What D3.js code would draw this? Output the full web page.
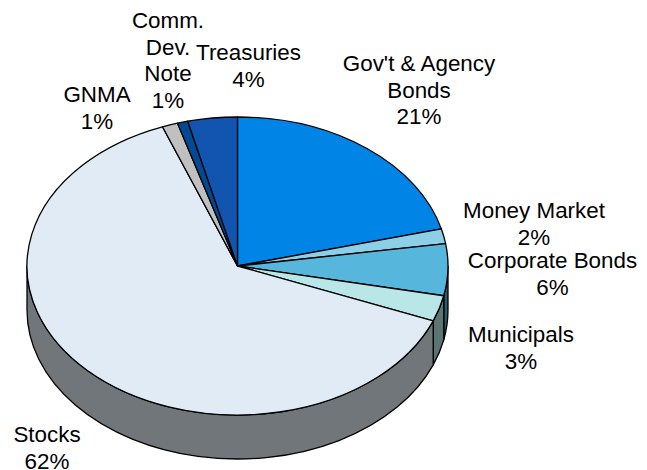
<!DOCTYPE html>
<html lang="en">
<head>
  <meta charset="UTF-8">
  <title>Portfolio Allocation</title>
  <script src="https://d3js.org/d3.v7.min.js"></script>
  <style>
    body { margin: 0; background: #fff; }
    text { font-family: "Liberation Sans", Arial, sans-serif; font-size: 22.4px; fill: #000; }
  </style>
</head>
<body>
  <script>
    // Values, clockwise from 12 o'clock
    const categories = ["Gov't & Agency Bonds", "Money Market", "Corporate Bonds", "Municipals", "Stocks", "GNMA", "Comm. Dev. Note", "Treasuries"];
    const values = [21, 1.6, 5.6, 2.8, 63.2, 1.2, 0.8, 3.8];
    const percentLabels = ["21%", "2%", "6%", "3%", "62%", "1%", "1%", "4%"];
    const topColors = ["#0085e6", "#8ccfe6", "#56b6dc", "#b9e6e6", "#e1ebf6", "#c0c0c0", "#004a94", "#1155b0"];
    const sideColors = ["#004a7a", "#46687a", "#2b5b6e", "#5c7573", "#70767a", "#606060", "#002550", "#082a58"];

    const width = 647, height = 470;
    const cx = 237.5, cy = 266, rx = 210.5, ry = 149, depth = 44;

    // label lines and where they sit, same order as categories
    const labelLines = [
      ["Gov't & Agency", "Bonds"], ["Money Market"], ["Corporate Bonds"], ["Municipals"],
      ["Stocks"], ["GNMA"], ["Comm.", "Dev.", "Note"], ["Treasuries"]
    ];
    const labelAt = [[419, 71], [534, 218], [552.5, 268], [521, 342], [47, 442], [97, 102], [168, 28], [248.5, 60]];

    const svg = d3.select("body").append("svg")
      .attr("width", width)
      .attr("height", height);

    const pie = d3.pie().sort(null).value(d => d);
    const slices = pie(values);

    const px = a => cx + rx * Math.sin(a);
    const py = a => cy - ry * Math.cos(a);

    // wall under the front half of the disc
    function sidePath(a0, a1) {
      return `M${px(a0)},${py(a0)}` +
        `A${rx},${ry} 0 0 1 ${px(a1)},${py(a1)}` +
        `L${px(a1)},${py(a1) + depth}` +
        `A${rx},${ry} 0 0 0 ${px(a0)},${py(a0) + depth}Z`;
    }

    const lo = Math.PI / 2, hi = Math.PI * 1.5;
    svg.append("g").selectAll("path")
      .data(slices.filter(d => d.endAngle > lo && d.startAngle < hi))
      .enter().append("path")
      .attr("d", d => sidePath(Math.max(d.startAngle, lo), Math.min(d.endAngle, hi)))
      .attr("fill", d => sideColors[d.index])
      .attr("stroke", "#000")
      .attr("stroke-width", 1.3)
      .attr("stroke-linejoin", "round");

    const arc = d3.arc().innerRadius(0).outerRadius(rx);
    svg.append("g")
      .attr("transform", `translate(${cx},${cy}) scale(1,${ry / rx})`)
      .selectAll("path")
      .data(slices)
      .enter().append("path")
      .attr("d", arc)
      .attr("fill", d => topColors[d.index])
      .attr("stroke", "#000")
      .attr("stroke-width", 1.3)
      .attr("vector-effect", "non-scaling-stroke")
      .attr("stroke-linejoin", "round");

    const labels = svg.append("g").selectAll("text")
      .data(categories)
      .enter().append("text")
      .attr("text-anchor", "middle")
      .attr("x", (d, i) => labelAt[i][0])
      .attr("y", (d, i) => labelAt[i][1]);

    labels.each(function (d, i) {
      const el = d3.select(this);
      labelLines[i].concat(percentLabels[i]).forEach((line, k) => {
        el.append("tspan")
          .attr("x", labelAt[i][0])
          .attr("dy", k ? 26.6 : 0)
          .text(line);
      });
    });
  </script>
</body>
</html>
